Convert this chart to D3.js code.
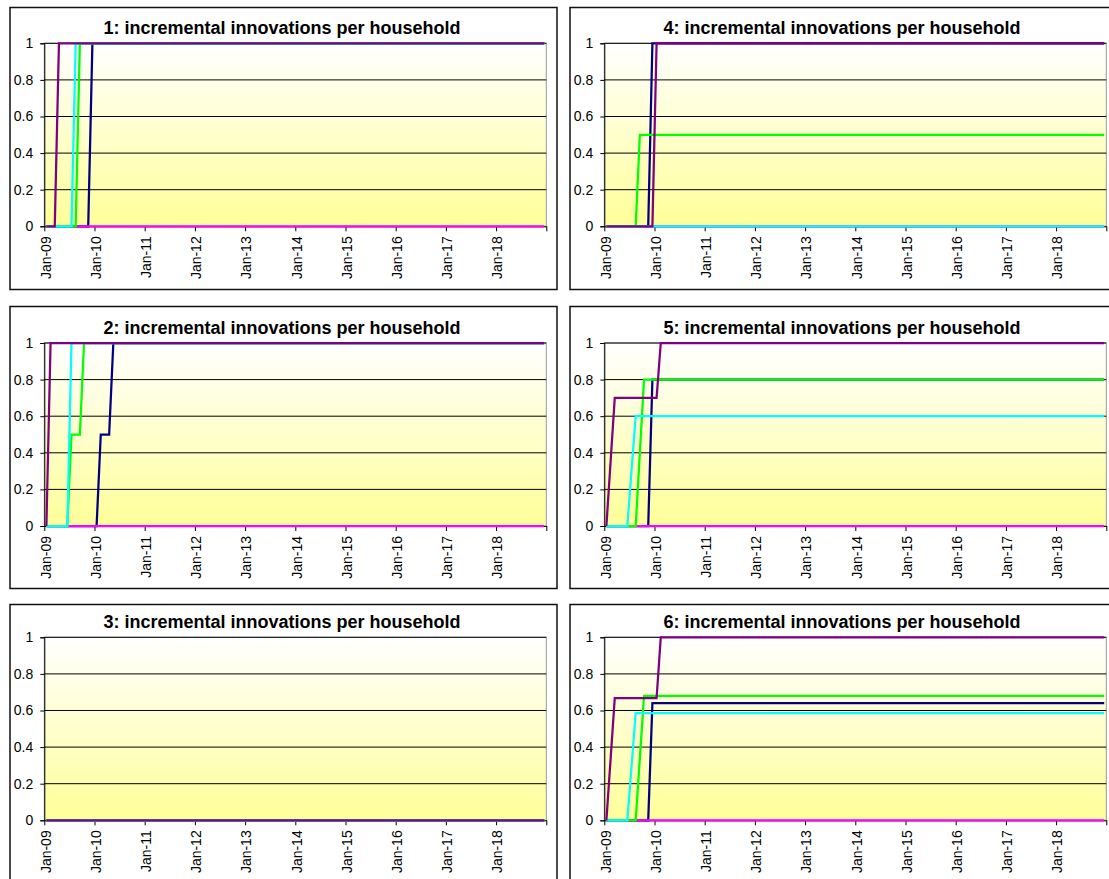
<!DOCTYPE html>
<html lang="en">
<head>
    <meta charset="UTF-8">
    <title>Incremental innovations per household</title>
    <script src="https://d3js.org/d3.v7.min.js"></script>
    <style>
        body, html { margin: 0; background-color: #ffffff; }
        svg { display: block; }
        .title {
            font-family: 'Liberation Sans', Arial, sans-serif;
            font-size: 18px;
            font-weight: bold;
            text-anchor: middle;
            fill: #000;
        }
        .axis text {
            font-family: 'Liberation Sans', Arial, sans-serif;
            font-size: 14px;
            fill: #000;
        }
    </style>
</head>
<body>
    <svg width="1109" height="879"></svg>
    <script>
        // month index 0 = Jan-09, 119 = Dec-18; each series is [month, value] breakpoints
        const seriesColors = ["#000080", "#FF00FF", "#00FF00", "#00FFFF", "#800080"];
        const yTicks = [0, 0.2, 0.4, 0.6, 0.8, 1];
        const yearLabels = ["Jan-09", "Jan-10", "Jan-11", "Jan-12", "Jan-13", "Jan-14", "Jan-15", "Jan-16", "Jan-17", "Jan-18"];
        const panelTitles = [
            "1: incremental innovations per household",
            "2: incremental innovations per household",
            "3: incremental innovations per household",
            "4: incremental innovations per household",
            "5: incremental innovations per household",
            "6: incremental innovations per household"
        ];

        // order: navy, magenta, green, cyan, purple
        const panel1 = [
            [[0, 0], [10, 0], [11, 1], [119, 1]],
            [[0, 0], [119, 0]],
            [[0, 0], [7, 0], [8, 1], [119, 1]],
            [[0, 0], [6, 0], [7, 1], [119, 1]],
            [[0, 0], [2, 0], [3, 1], [119, 1]]
        ];
        const panel2 = [
            [[0, 0], [12, 0], [13, 0.5], [15, 0.5], [16, 1], [119, 1]],
            [[0, 0], [119, 0]],
            [[0, 0], [5, 0], [6, 0.5], [8, 0.5], [9, 1], [119, 1]],
            [[0, 0], [5, 0], [6, 1], [119, 1]],
            [[0, 0], [1, 1], [119, 1]]
        ];
        const panel3 = [
            [[0, 0], [119, 0]],
            [[0, 0], [119, 0]],
            [[0, 0], [119, 0]],
            [[0, 0], [119, 0]],
            [[0, 0], [119, 0]]
        ];
        const panel4 = [
            [[0, 0], [10, 0], [11, 1], [119, 1]],
            [[0, 0], [119, 0]],
            [[0, 0], [7, 0], [8, 0.5], [119, 0.5]],
            [[0, 0], [119, 0]],
            [[0, 0], [11, 0], [12, 1], [119, 1]]
        ];
        const panel5 = [
            [[0, 0], [10, 0], [11, 0.8], [119, 0.8]],
            [[0, 0], [119, 0]],
            [[0, 0], [7, 0], [8, 0.4], [9, 0.8], [119, 0.8]],
            [[0, 0], [5, 0], [6, 0.3], [7, 0.6], [119, 0.6]],
            [[0, 0], [1, 0.35], [2, 0.7], [12, 0.7], [13, 1], [119, 1]]
        ];
        const panel6 = [
            [[0, 0], [10, 0], [11, 0.64], [119, 0.64]],
            [[0, 0], [119, 0]],
            [[0, 0], [7, 0], [8, 0.34], [9, 0.68], [119, 0.68]],
            [[0, 0], [5, 0], [6, 0.29], [7, 0.585], [119, 0.585]],
            [[0, 0], [1, 0.333], [2, 0.667], [12, 0.667], [13, 1], [119, 1]]
        ];
        const panels = [panel1, panel2, panel3, panel4, panel5, panel6];

        const svg = d3.select("svg");

        const grad = svg.append("defs").append("linearGradient")
            .attr("id", "plotFill")
            .attr("x1", 0).attr("y1", 0).attr("x2", 0).attr("y2", 1);
        grad.append("stop").attr("offset", "0%").attr("stop-color", "#ffffff");
        grad.append("stop").attr("offset", "100%").attr("stop-color", "#ffff99");

        const boxTops = [7.5, 306.5, 604.5];
        const plotTops = [43.3, 343, 637.3];
        const plotW = 502, plotH = 183;

        panels.forEach((series, n) => {
            const col = Math.floor(n / 3), row = n % 3;
            const boxLeft = 10 + col * 560;
            const plotLeft = 44.3 + col * 560;
            const plotTop = plotTops[row];

            svg.append("rect")
                .attr("x", boxLeft).attr("y", boxTops[row])
                .attr("width", 547).attr("height", 282)
                .attr("fill", "#fff")
                .attr("stroke", "#111")
                .attr("stroke-width", 1.5);

            const g = svg.append("g").attr("transform", `translate(${plotLeft},${plotTop})`);

            const x = d3.scaleLinear().domain([0, 120]).range([0, plotW]);
            const y = d3.scaleLinear().domain([0, 1]).range([plotH, 0]);

            g.append("rect")
                .attr("width", plotW).attr("height", plotH)
                .attr("fill", "url(#plotFill)")
                .attr("stroke", "#999")
                .attr("stroke-width", 1);

            g.selectAll("line.grid")
                .data(yTicks.slice(1))
                .enter().append("line")
                .attr("class", "grid")
                .attr("x1", 0).attr("x2", plotW)
                .attr("y1", d => y(d)).attr("y2", d => y(d))
                .attr("stroke", "#000")
                .attr("stroke-width", 1);

            const yAxis = g.append("g").attr("class", "axis")
                .call(d3.axisLeft(y).tickValues(yTicks).tickSize(4).tickPadding(7)
                    .tickFormat(d3.format("")));
            yAxis.select(".domain").attr("stroke", "#000");

            const xAxis = g.append("g").attr("class", "axis")
                .attr("transform", `translate(0,${plotH})`)
                .call(d3.axisBottom(x).tickValues(d3.range(0, 121, 12)).tickSize(5).tickSizeOuter(0)
                    .tickFormat((d, k) => yearLabels[k] || ""));
            xAxis.selectAll("text")
                .attr("transform", "rotate(-90)")
                .attr("text-anchor", "end")
                .attr("x", -10)
                .attr("y", 0)
                .attr("dy", "0.42em");

            const line = d3.line()
                .x(d => x(d[0] + 0.5))
                .y(d => y(d[1]));

            g.selectAll("path.series")
                .data(series)
                .enter().append("path")
                .attr("class", "series")
                .attr("d", line)
                .attr("fill", "none")
                .attr("stroke", (d, i) => seriesColors[i])
                .attr("stroke-width", 2.25)
                .attr("stroke-linejoin", "miter");

            svg.append("text")
                .attr("class", "title")
                .attr("x", boxLeft + 272)
                .attr("y", plotTop - 9)
                .text(panelTitles[n]);
        });
    </script>
</body>
</html>
